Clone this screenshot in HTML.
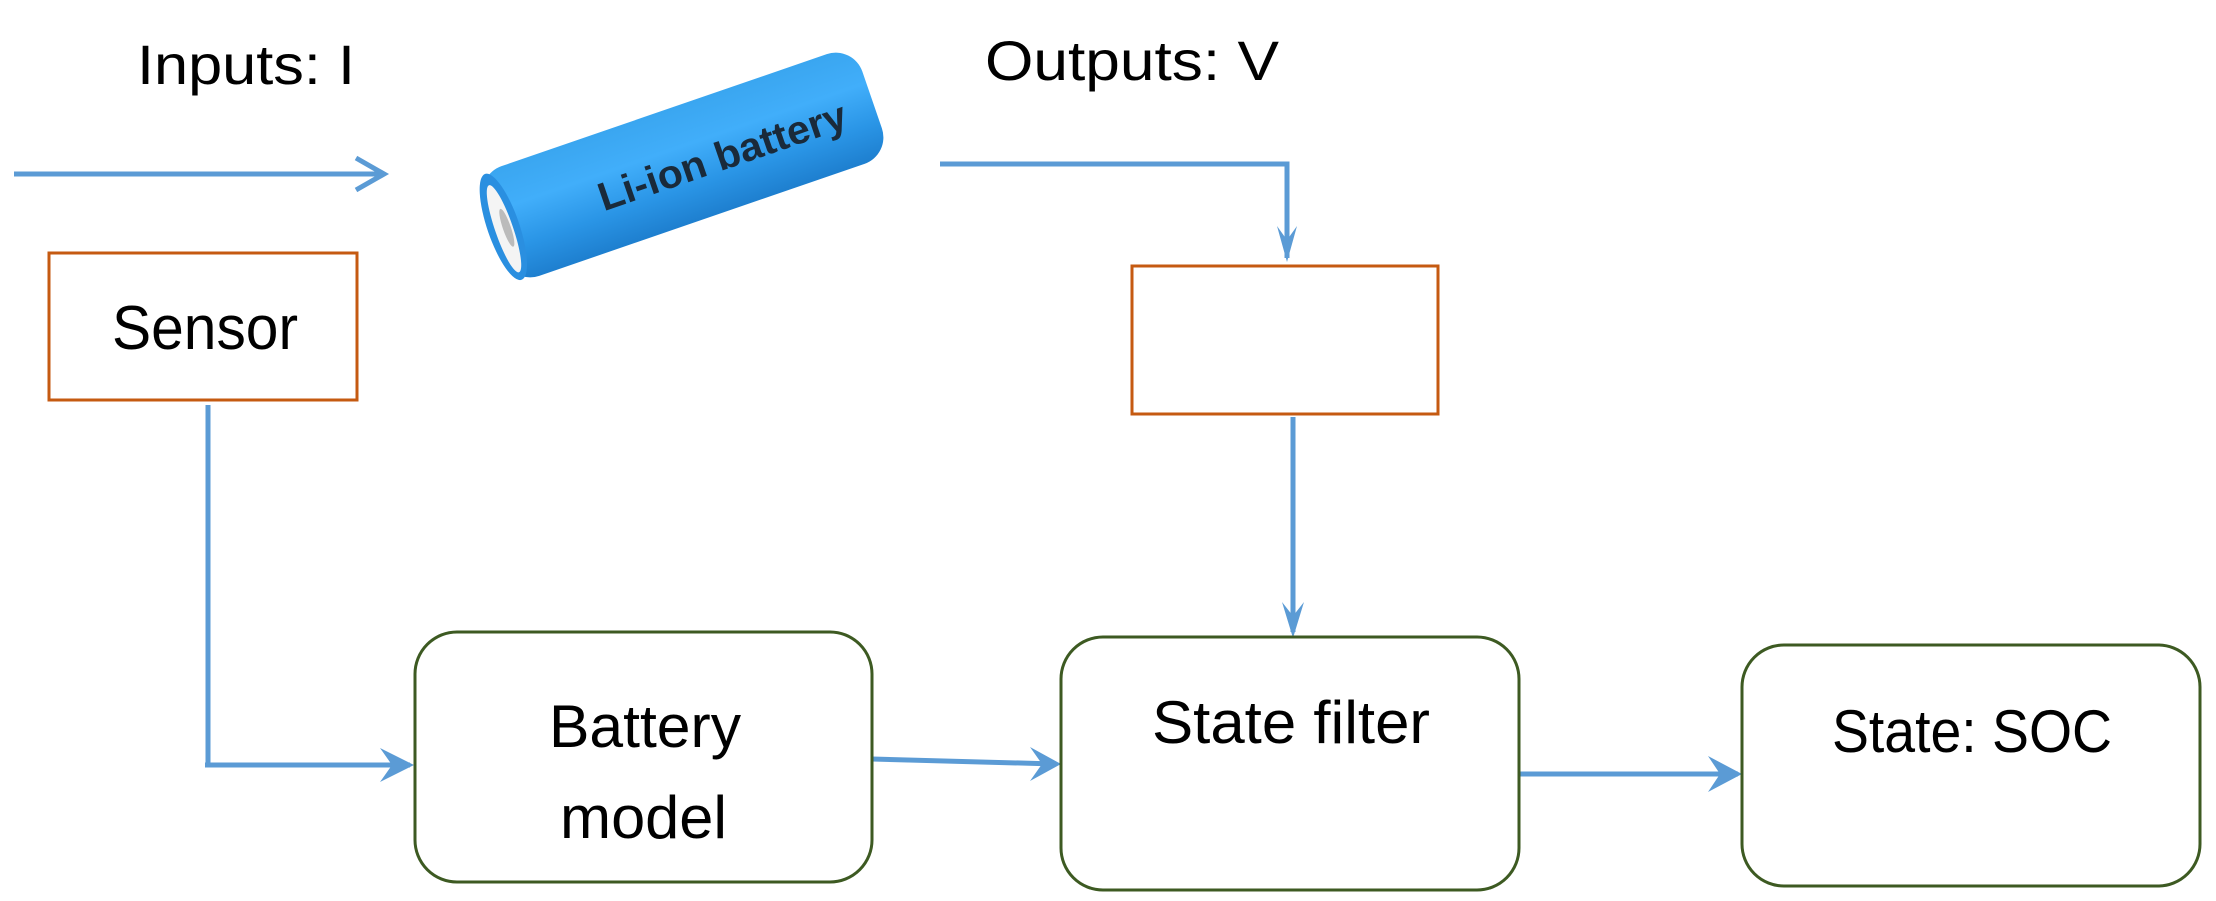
<!DOCTYPE html>
<html><head><meta charset="utf-8"><style>
html,body{margin:0;padding:0;background:#fff;}
svg{display:block;}
text{font-family:"Liberation Sans",sans-serif;fill:#000;}
</style></head><body>
<svg width="2216" height="901" viewBox="0 0 2216 901" xmlns="http://www.w3.org/2000/svg">
<defs>
<linearGradient id="bg" x1="0" y1="0" x2="0" y2="1">
<stop offset="0" stop-color="#3aa6f0"/><stop offset="0.35" stop-color="#41aefa"/><stop offset="0.7" stop-color="#2a95e6"/><stop offset="1" stop-color="#1e7fcf"/>
</linearGradient>
</defs>
<g stroke="#5b9bd5" stroke-width="5" fill="none">
<line x1="14" y1="174" x2="380" y2="174"/>
<polyline points="356,158 384,174 356,190"/>
<polyline points="940,164 1287,164 1287,258"/>
<line x1="208" y1="405" x2="208" y2="765"/>
<line x1="205" y1="765" x2="410" y2="765"/>
<line x1="872" y1="759" x2="1055" y2="764"/>
<line x1="1293" y1="417" x2="1293" y2="632"/>
<line x1="1519" y1="774" x2="1738" y2="774"/>
</g>
<g fill="#5b9bd5">
<polygon points="1277,226 1287,262 1297,226 1287,240"/>
<polygon points="380,748 414,765 380,782 392,765"/>
<polygon points="1030,747 1061,764 1030,781 1042,764"/>
<polygon points="1282,602 1293,638 1304,602 1293,616"/>
<polygon points="1708,756 1742,774 1708,792 1720,774"/>
</g>
<rect x="49" y="253" width="308" height="147" fill="none" stroke="#c55a11" stroke-width="3"/>
<rect x="1132" y="266" width="306" height="148" fill="none" stroke="#c55a11" stroke-width="3"/>
<rect x="415" y="632" width="457" height="250" rx="42" fill="none" stroke="#3d5a22" stroke-width="3"/>
<rect x="1061" y="637" width="458" height="253" rx="42" fill="none" stroke="#3d5a22" stroke-width="3"/>
<rect x="1742" y="645" width="458" height="241" rx="42" fill="none" stroke="#3d5a22" stroke-width="3"/>
<text x="137" y="84" font-size="56" textLength="218" lengthAdjust="spacingAndGlyphs">Inputs: I</text>
<text x="985" y="80" font-size="56" textLength="294" lengthAdjust="spacingAndGlyphs">Outputs: V</text>
<text x="112" y="349" font-size="62" textLength="186" lengthAdjust="spacingAndGlyphs">Sensor</text>
<text x="549" y="747" font-size="60" textLength="192" lengthAdjust="spacingAndGlyphs">Battery</text>
<text x="560" y="838" font-size="60" textLength="167" lengthAdjust="spacingAndGlyphs">model</text>
<text x="1152" y="743" font-size="60" textLength="278" lengthAdjust="spacingAndGlyphs">State filter</text>
<text x="1832" y="752" font-size="60" textLength="280" lengthAdjust="spacingAndGlyphs">State: SOC</text>
<g transform="translate(683,165) rotate(-19)">
<rect x="-200" y="-58" width="400" height="116" rx="28" fill="url(#bg)"/>
<ellipse cx="-190" cy="0" rx="16" ry="56" fill="#2a8fe0"/>
<ellipse cx="-190" cy="2" rx="9" ry="46" fill="#f4f4f4"/>
<ellipse cx="-187" cy="2" rx="4" ry="20" fill="#bbb"/>
<text x="-90" y="18" font-size="40" font-weight="bold" style="fill:#1a2a3a" textLength="260" lengthAdjust="spacingAndGlyphs">Li-ion battery</text>
</g>
</svg>
</body></html>
